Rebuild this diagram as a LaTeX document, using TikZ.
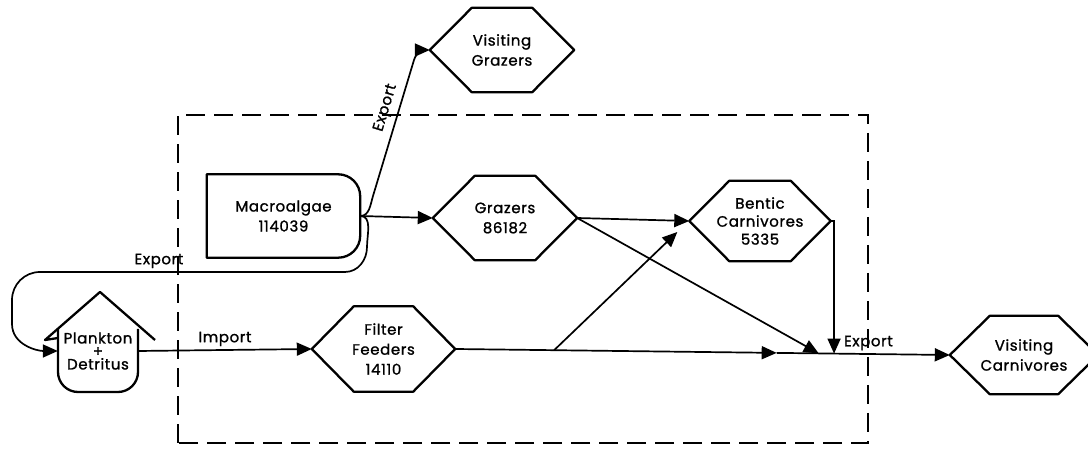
\documentclass[tikz,border=0pt]{standalone}
\usepackage{fontspec}
\setmainfont[LetterSpace=4, FakeBold=1.2]{Poppins}
\usetikzlibrary{arrows.meta,
	calc,
	positioning}
\tikzstyle{hex}=[align=center, inner sep=0pt]
\tikzstyle{box}=[align=center, inner sep=0pt, minimum width=153pt, minimum height=83pt]
\tikzstyle{outl}=[line width=2.3pt, line join=round]
\tikzstyle{flow}=[line width=1.7pt, -{Triangle[length=15pt,width=13pt]}]
\tikzstyle{bnd}=[line width=2.8pt, dash pattern=on 19pt off 9pt]
\tikzstyle{lbl}=[inner sep=3pt]
% hexagon drawn round a text node: node name, pointer length
\newcommand{\hexline}[2]{\draw[outl] (#1.west) -- ([xshift=#2]#1.north west)
	-- ([xshift=-#2]#1.north east) -- (#1.east) -- ([xshift=-#2]#1.south east)
	-- ([xshift=#2]#1.south west) -- cycle;}

\begin{document}
\begin{tikzpicture}[x=1pt, y=1pt, font=\fontsize{15}{20}\selectfont]
	\clip (0,0) rectangle (1088,452);
	\useasboundingbox (0,0) rectangle (1088,452);
	% system boundary
	\draw[bnd] (178,9) rectangle (868,337);
	% compartments
	\node[hex, minimum width=144pt, minimum height=84pt] (vg) at (502,402) {Visiting\\Grazers};
	\hexline{vg}{42pt}
	\node[box] (mac) at (283.5,236) {Macroalgae\\114039};
	\draw[outl] (mac.south west) -- (mac.north west) -- ([xshift=-22pt]mac.north east)
		arc[start angle=90, end angle=0, radius=22pt] -- ([yshift=22pt]mac.south east)
		arc[start angle=0, end angle=-90, radius=22pt] -- cycle;
	\node[hex, minimum width=144pt, minimum height=84pt] (gr) at (505,234) {Grazers\\86182};
	\hexline{gr}{42pt}
	\node[hex, minimum width=141pt, minimum height=80pt, font=\fontsize{15}{18}\selectfont] (bc) at (760,231) {Bentic\\Carnivores\\5335};
	\hexline{bc}{40pt}
	\node[hex, minimum width=143pt, minimum height=85pt] (ff) at (383.5,103) {Filter\\Feeders\\14110};
	\hexline{ff}{42pt}
	\node[hex, minimum width=148pt, minimum height=78pt] (vc) at (1024,97) {Visiting\\Carnivores};
	\hexline{vc}{40pt}
	\node[align=center, inner sep=0pt, minimum width=80pt, font=\fontsize{15}{13}\selectfont] (pl) at (98,101) {Plankton\\+\\Detritus};
	\draw[outl] (58,114) -- (45,112) -- (100,160) -- (155,112);
	\draw[outl] (58,123) -- (58,80) arc[start angle=180, end angle=270, radius=20pt]
		-- (118,60) arc[start angle=270, end angle=360, radius=20pt] -- (138,123);
	% junctions on the main line
	\coordinate (fork) at ($(ff.east)!0.2!(vc.west)$);
	\coordinate (mid) at ($(ff.east)!0.65!(vc.west)$);
	\coordinate (jg) at ($(ff.east)!0.735!(vc.west)$);
	\coordinate (jb) at ($(ff.east)!0.766!(vc.west)$);
	\coordinate (bctip) at ($(bc.west)+(-12,-11)$);
	% flows
	\draw[flow] (mac.east) to[out=0, in=-107] (373,256) -- node[lbl, sloped, above, pos=0.62, inner sep=5pt] {Export} (414,392) to[out=73, in=180] (vg.west);
	\draw[flow] (mac.east) -- (gr.west);
	\draw[flow] (mac.east) to[out=0, in=90] (367,205) to[out=-90, in=0] (345,180)
		-- node[lbl, above, pos=0.61] {Export} (40,180) to[out=180, in=90] (12,152)
		-- (12,128) to[out=-90, in=180] (pl.west);
	\draw[flow] (pl.east) -- node[lbl, above] {Import} (ff.west);
	\draw[flow] (gr.east) -- (bc.west);
	\draw[flow] (gr.east) -- (jg);
	\draw[flow] (bc.east) -| (jb);
	\draw[flow] (ff.east) -- (mid);
	\draw[flow] (fork) -- (bctip);
	\draw[flow] (mid) -- node[lbl, above, pos=0.53] {Export} (vc.west);
\end{tikzpicture}
\end{document}
